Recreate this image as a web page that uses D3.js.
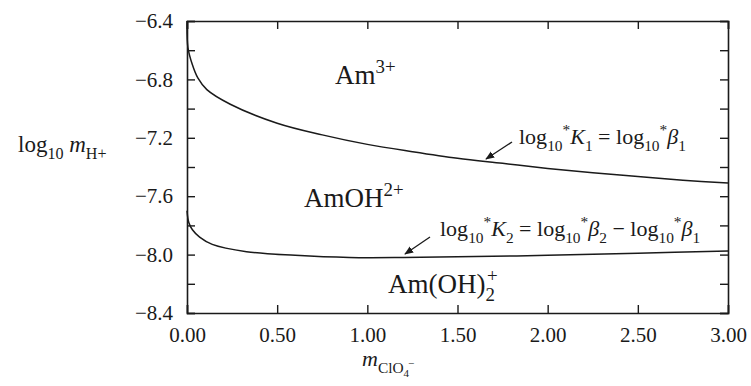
<!DOCTYPE html>
<html>
<head>
<meta charset="utf-8">
<script src="https://cdn.jsdelivr.net/npm/d3@7"></script>
<style>
  body { margin: 0; background: #fff; }
  text { font-family: "Liberation Serif", "Times New Roman", serif; fill: #1a1a1a; }
</style>
</head>
<body>
<svg id="chart"></svg>
<script>
// boundary lines
const k1X = [0, 0.005, 0.03, 0.06, 0.11, 0.24, 0.5, 0.75, 1.0, 1.25, 1.5, 1.75, 2.0, 2.25, 2.5, 2.75, 3.0];
const k1Y = [-6.40, -6.58, -6.70, -6.79, -6.87, -6.97, -7.10, -7.18, -7.245, -7.295, -7.34, -7.375, -7.41, -7.44, -7.465, -7.49, -7.51];
const k2X = [0, 0.01, 0.03, 0.07, 0.14, 0.33, 0.6, 0.9, 1.2, 1.5, 2.0, 2.5, 3.0];
const k2Y = [-7.70, -7.78, -7.83, -7.88, -7.93, -7.98, -8.005, -8.02, -8.02, -8.015, -8.005, -7.99, -7.975];

const xTicks = [0, 0.5, 1.0, 1.5, 2.0, 2.5, 3.0];
const yTicks = [-6.4, -6.8, -7.2, -7.6, -8.0, -8.4];
const yMinor = [-6.6, -7.0, -7.4, -7.8, -8.2];

const width = 751;
const height = 386;
const margin = {top: 21, right: 23, bottom: 73, left: 187};

const x = d3.scaleLinear()
    .domain([0, 3])
    .range([margin.left, width - margin.right]);

const y = d3.scaleLinear()
    .domain([-6.4, -8.4])
    .range([margin.top, height - margin.bottom]);

const svg = d3.select("#chart")
    .attr("width", width)
    .attr("height", height)
    .attr("viewBox", [0, 0, width, height]);

// rich text helper: parts are [text, kind] with kind n|i|sub|sup|sub2|sup2
function rich(g, px, py, parts, size) {
  const t = g.append("text").attr("x", px).attr("y", py).attr("font-size", size);
  let shift = 0;
  parts.forEach(([str, kind, extra]) => {
    let target = 0, fs = size;
    if (kind === "sub") { target = size * 0.3; fs = size * 0.7; }
    if (kind === "sup") { target = -size * 0.42; fs = size * 0.7; }
    if (kind === "sub2") { target = size * 0.5; fs = size * 0.5; }
    if (kind === "sup2") { target = size * 0.05; fs = size * 0.5; }
    const s = t.append("tspan")
        .attr("dy", target - shift)
        .attr("font-size", fs)
        .text(str);
    if (kind === "i") s.attr("font-style", "italic");
    if (extra && extra.dx) s.attr("dx", extra.dx);
    shift = target;
  });
  return t;
}

const gx = svg.append("g")
    .attr("transform", `translate(0,${y(-8.4)})`)
    .call(d3.axisBottom(x).tickValues(xTicks).tickSize(-8).tickPadding(14)
        .tickFormat(d3.format(".2f")));

const gxTop = svg.append("g")
    .attr("transform", `translate(0,${y(-6.4)})`)
    .call(d3.axisTop(x).tickValues(xTicks).tickSize(-8).tickFormat(""));

const gy = svg.append("g")
    .attr("transform", `translate(${x(0)},0)`)
    .call(d3.axisLeft(y).tickValues(yTicks.concat(yMinor)).tickSize(-8).tickPadding(14)
        .tickFormat(d => yTicks.includes(d) ? d3.format(".1f")(d).replace("-", "\u2212") : ""));

const gyRight = svg.append("g")
    .attr("transform", `translate(${x(3)},0)`)
    .call(d3.axisRight(y).tickValues(yTicks.concat(yMinor)).tickSize(-8).tickFormat(""));

[gx, gxTop, gy, gyRight].forEach(g => {
  g.select(".domain").attr("stroke", "#1a1a1a").attr("stroke-width", 1.6);
  g.selectAll(".tick line").attr("stroke", "#1a1a1a").attr("stroke-width", 1.4);
  g.selectAll(".tick text")
      .attr("font-family", "Liberation Serif, serif")
      .attr("font-size", 21)
      .attr("fill", "#1a1a1a");
});

const line = d3.line()
    .x(d => x(d[0]))
    .y(d => y(d[1]))
    .curve(d3.curveCatmullRom.alpha(0.5));

svg.append("path")
    .datum(k1X.map((v, i) => [v, k1Y[i]]))
    .attr("fill", "none")
    .attr("stroke", "#1a1a1a")
    .attr("stroke-width", 1.5)
    .attr("d", line);

svg.append("path")
    .datum(k2X.map((v, i) => [v, k2Y[i]]))
    .attr("fill", "none")
    .attr("stroke", "#1a1a1a")
    .attr("stroke-width", 1.5)
    .attr("d", line);

// region labels
rich(svg, 335, 84, [["Am", "n"], ["3+", "sup"]], 27);
rich(svg, 304, 207, [["AmOH", "n"], ["2+", "sup"]], 27);
rich(svg, 388, 293, [["Am(OH)", "n"], ["2", "sub"], ["+", "sup", {dx: -8}]], 27);

// annotations
rich(svg, 519, 144, [["log", "n"], ["10", "sub"], ["*", "sup"], ["K", "i"], ["1", "sub"],
    [" = log", "n"], ["10", "sub"], ["*", "sup"], ["\u03b2", "i"], ["1", "sub"]], 22);
rich(svg, 440, 236, [["log", "n"], ["10", "sub"], ["*", "sup"], ["K", "i"], ["2", "sub"],
    [" = log", "n"], ["10", "sub"], ["*", "sup"], ["\u03b2", "i"], ["2", "sub"],
    [" \u2212 log", "n"], ["10", "sub"], ["*", "sup"], ["\u03b2", "i"], ["1", "sub"]], 22);

svg.append("defs").append("marker")
    .attr("id", "arrow")
    .attr("viewBox", "0 0 10 10")
    .attr("refX", 9).attr("refY", 5)
    .attr("markerWidth", 9).attr("markerHeight", 9)
    .attr("markerUnits", "userSpaceOnUse")
    .attr("orient", "auto")
    .append("path")
    .attr("d", "M0,1 L10,5 L0,9 Z")
    .attr("fill", "#1a1a1a");

const arrows = [[512, 142, 486, 159], [430, 237, 405, 254]];
svg.selectAll(".arrow")
  .data(arrows)
  .join("line")
    .attr("x1", d => d[0]).attr("y1", d => d[1])
    .attr("x2", d => d[2]).attr("y2", d => d[3])
    .attr("stroke", "#1a1a1a")
    .attr("stroke-width", 1.3)
    .attr("marker-end", "url(#arrow)");

// axis titles
rich(svg, 18, 152, [["log", "n"], ["10", "sub"], [" ", "n"], ["m", "i"], ["H+", "sub"]], 23);
rich(svg, 362, 366, [["m", "i"], ["ClO", "sub"], ["4", "sub2"], ["\u2212", "sup2", {dx: -1}]], 22);
</script>
</body>
</html>
